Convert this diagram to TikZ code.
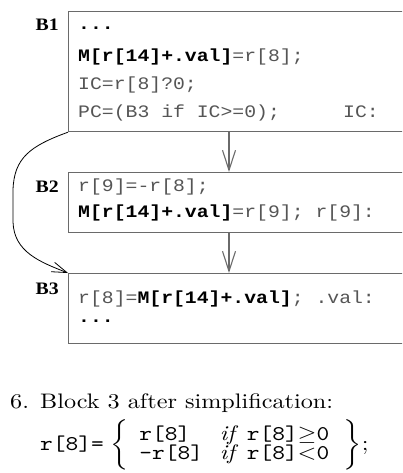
\documentclass[tikz,border=0pt]{standalone}
\usepackage{graphicx}
\usepackage{fontspec}
\usetikzlibrary{arrows.meta}
\newfontfamily\codefont[FakeStretch=1.13]{Liberation Mono}
\newfontfamily\labfont[FakeStretch=1.13]{Liberation Serif}
\definecolor{boxline}{HTML}{6A6A6A}
\definecolor{codegray}{HTML}{555555}
\tikzset{
  box/.style={draw=boxline, line width=1.2pt, rectangle, inner sep=0pt, anchor=north west},
  code/.style={anchor=base west, inner sep=0pt, text=codegray, font=\codefont\fontsize{17.5}{20}\selectfont},
  blabel/.style={anchor=base east, inner sep=0pt, font=\labfont\bfseries\fontsize{17.5}{20}\selectfont},
  flow/.style={draw=boxline, line width=1.1pt, -{Straight Barb[length=20pt,width=13pt,line width=1.1pt]}},
  back/.style={draw=black, line width=0.8pt, -{Straight Barb[length=15pt,width=10pt,line width=0.8pt]}},
  textbig/.style={inner sep=0pt},
}
\newcommand{\boldcode}[1]{\textbf{\color{black}#1}}
\newcommand{\enlarge}[1]{\scalebox{2.42}[2.1]{#1}}
\begin{document}
\begin{tikzpicture}[x=1pt,y=-1pt]
\useasboundingbox (0,0) rectangle (402,473);
\clip (0,0) rectangle (402,473);

% basic blocks
\node[box, minimum width=360pt, minimum height=120pt] (b1) at (68,11) {};
\node[box, minimum width=360pt, minimum height=60pt]  (b2) at (68,172) {};
\node[box, minimum width=360pt, minimum height=70pt]  (b3) at (68,273) {};

% block labels
\node[blabel] (l1) at (59,31) {B1};
\node[blabel] (l2) at (59,192) {B2};
\node[blabel] (l3) at (59,294) {B3};

% block 1
\node[code] (c11) at (78,30)  {\boldcode{...}};
\node[code] (c12) at (78,62)  {\boldcode{M[r[14]+.val]}=r[8];};
\node[code] (c13) at (78,90)  {IC=r[8]?0;};
\node[code] (c14) at (78,118) {PC=(B3 if IC>=0);};
\node[code] (c15) at (343,118) {IC:};

% block 2
\node[code] (c21) at (78,191) {r[9]=-r[8];};
\node[code] (c22) at (78,217) {\boldcode{M[r[14]+.val]}=r[9]; r[9]:};

% block 3
\node[code] (c31) at (78,303) {r[8]=\boldcode{M[r[14]+.val]}; .val:};
\node[code] (c32) at (78,322) {\boldcode{...}};

% control flow
\coordinate (ax) at (229,0);
\draw[flow] (ax |- b1.south) -- (ax |- b2.north);
\draw[flow] (ax |- b2.south) -- (ax |- b3.north);
\draw[back] (b1.south west) .. controls (30,146) and (14,158) .. (13,190)
  -- (13,222) .. controls (14,252) and (40,262) .. (b3.north west);

% simplified block 3
\node[textbig, anchor=base west] (cap) at (10,408)
  {\enlarge{6.\hspace{4.6pt}Block 3 after simplification:}};
\node[textbig, anchor=west] (eq) at (40,445)
  {\enlarge{$\texttt{r[8]=}\;\bigg\{\hspace{4.5pt}%
   \renewcommand{\arraystretch}{0.65}%
   \begin{array}{@{}l@{\hspace{7pt}}l@{}}
     \texttt{r[8]} & \mathit{if}\hspace{5pt}\texttt{r[8]}{\geq}\texttt{0}\\
     \texttt{-r[8]} & \mathit{if}\hspace{5pt}\texttt{r[8]}{<}\texttt{0}
   \end{array}\hspace{6pt}\bigg\}$;}};
\end{tikzpicture}
\end{document}
